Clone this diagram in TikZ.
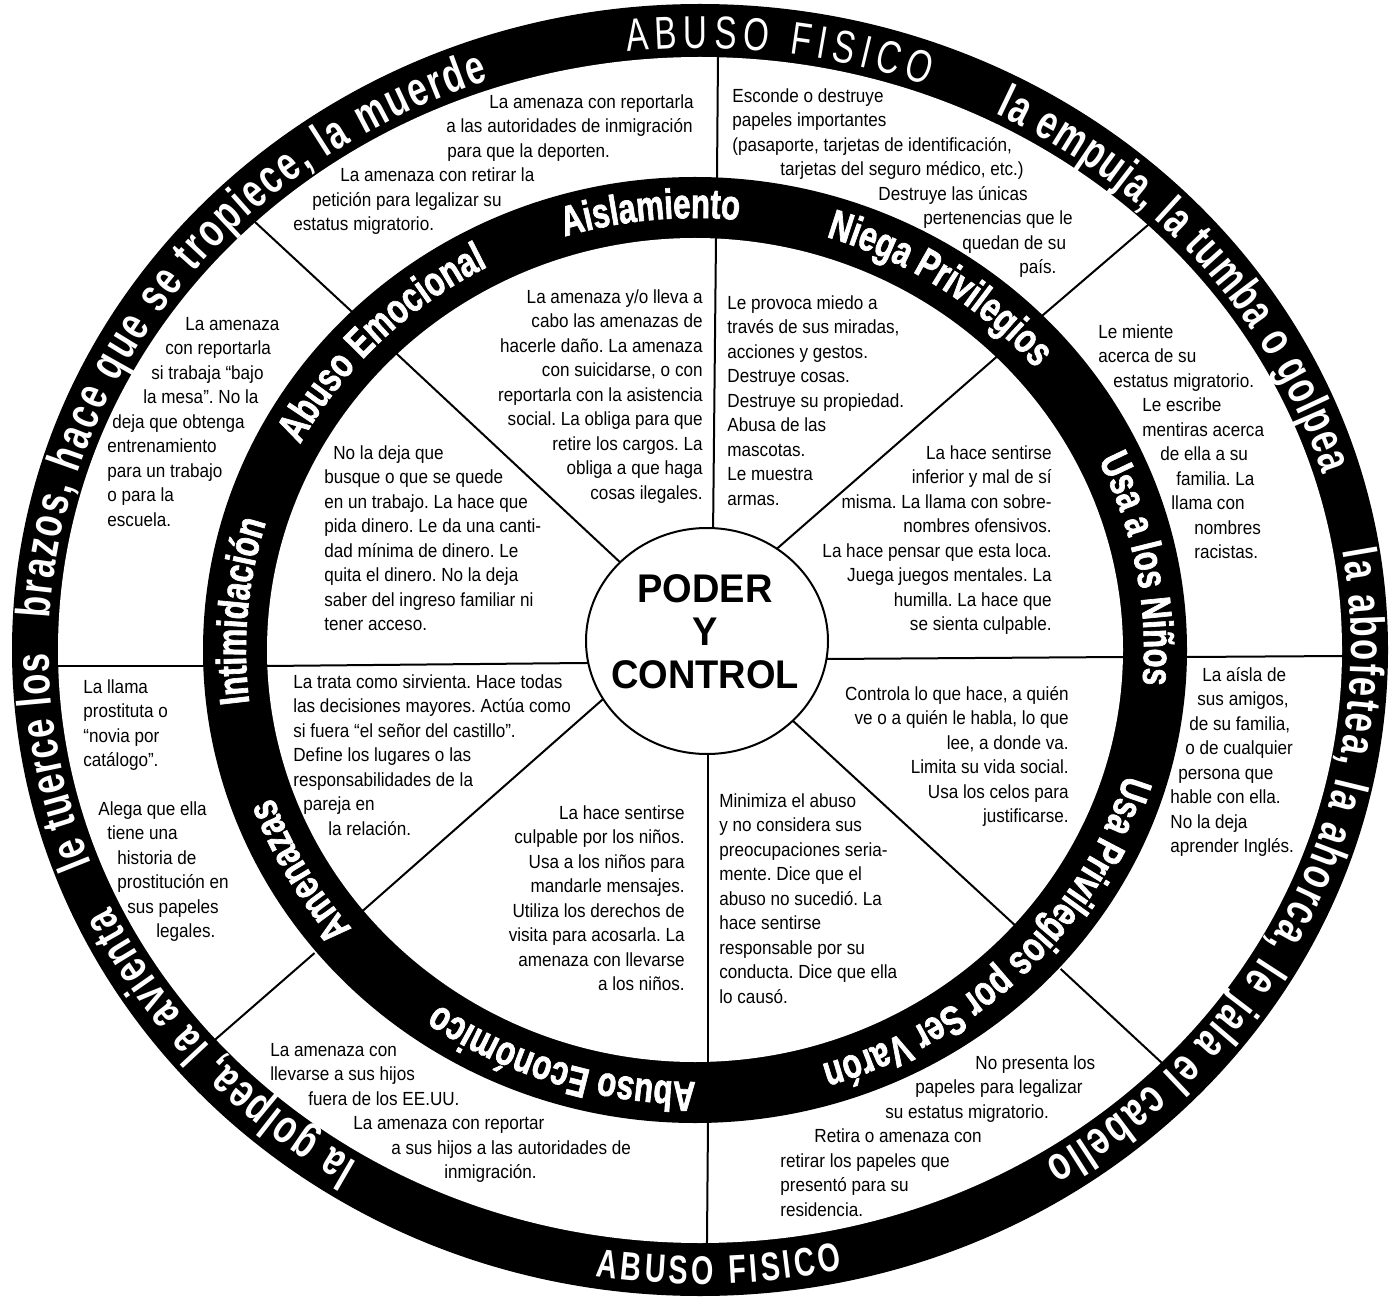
\documentclass[tikz,border=0pt]{standalone}
\usepackage{fontspec}
\setmainfont{Liberation Sans}
\newfontfamily\bodyfont[FakeStretch=0.9]{Liberation Sans}
\newfontfamily\ringfont[FakeStretch=0.74,BoldFeatures={FakeBold=1.6}]{Liberation Sans}
\newfontfamily\rimfont[FakeStretch=0.72]{Liberation Sans}
\newfontfamily\hubfont[FakeStretch=0.95]{Liberation Sans}
\usetikzlibrary{decorations.text,positioning}
\frenchspacing
\newlength\pxu
\setlength\pxu{0.5pt}
\newcommand{\ind}[1]{\hspace*{#1\pxu}}
\newcommand{\ringlab}{\ringfont\bfseries\fontsize{21}{21}\selectfont\color{white}}
\newcommand{\rimlab}{\rimfont\fontsize{23}{23}\selectfont\color{white}}
\newcommand{\rimside}{\rimfont\bfseries\fontsize{24}{24}\selectfont\color{white}}
\newcommand{\rimbold}{\rimfont\bfseries\fontsize{20}{20}\selectfont\color{white}}
\tikzset{
  cell/.style={font=\bodyfont\fontsize{9.5}{12.25}\selectfont,inner sep=0pt,align=left,anchor=north west},
  cellr/.style={cell,align=right,anchor=north east},
  spoke/.style={line width=1pt,shorten <=-3pt,shorten >=-3pt},
  hubspoke/.style={spoke,shorten >=-12pt},
  rim/.style={decorate,decoration={text along path,text align=fit to path,text={|\rimlab|#1}}},
  rims/.style={decorate,decoration={text along path,text align=fit to path,text={|\rimside|#1}}},
  rimb/.style={decorate,decoration={text along path,text align=fit to path,text={|\rimbold|#1}}},
  ring/.style={decorate,decoration={text along path,text align=center,text={|\ringlab|#1}}},
}
\newcommand{\ringtext}[2]{\path[ring={#2}] ([shift={(695,-650)}]#1+40:449 and 432)
  arc[start angle=#1+40,end angle=#1-40,x radius=449,y radius=432];}

\begin{document}
\begin{tikzpicture}[x=0.5pt,y=0.5pt]
  \fill[white] (0,0) rectangle (1398,-1299);
  \useasboundingbox (0,0) rectangle (1398,-1299);
  \fill (700,-650) ellipse [x radius=688,y radius=646];
  \fill[white] (700,-650) ellipse [x radius=642,y radius=593];
  \foreach \xa/\ya/\xb/\yb in {718/55/717/177,1148/225/1043/315,1343/656/1187/657,
      1162/1063/1065/973,707/1240/708/1122,217/1038/310/957,58/666/203/666,255/222/350/310}
    \draw[spoke] (\xa,-\ya) -- (\xb,-\yb);
  \fill (695,-650) ellipse [x radius=492,y radius=473];
  \fill[white] (695,-650) ellipse [x radius=428,y radius=412];
  \foreach \xa/\ya/\xb/\yb in {716/238/713/537,993/360/772/553,1123/657/827/659,
      1018/928/792/720,708/1065/708/753,358/915/602/700,267/666/586/663,398/355/623/565}
    \draw[hubspoke] (\xa,-\ya) -- (\xb,-\yb);
  \filldraw[fill=white,line width=1pt] (707,-641) ellipse [x radius=121,y radius=113];

  \ringtext{95.7}{Aislamiento}
  \ringtext{56.5}{Niega Privilegios}
  \ringtext{10.6}{Usa a los Niños}
  \ringtext{-45}{Usa Privilegios por Ser Varón}
  \ringtext{-107.6}{Abuso Económico}
  \ringtext{209.7}{Amenazas}
  \ringtext{175}{Intimidación}
  \ringtext{134.9}{Abuso Emocional}

  \path[rim={ABUSO FISICO}] ([shift={(700,-650)}]96.4:651 and 602) arc[start angle=96.4,end angle=69.6,x radius=651,y radius=602];
  \path[rims={la empuja, la tumba o golpea}] ([shift={(700,-650)}]63:651 and 602) arc[start angle=63,end angle=17,x radius=651,y radius=602];
  \path[rims={la abofetea, la ahorca, le jala el cabello}] ([shift={(700,-650)}]9.5:651 and 602) arc[start angle=9.5,end angle=-58,x radius=651,y radius=602];
  \path[rims={la golpea, la avienta}] ([shift={(700,-650)}]238.3:651 and 602) arc[start angle=238.3,end angle=205.2,x radius=651,y radius=602];
  \path[rims={le tuerce los}] ([shift={(700,-650)}]200.8:651 and 602) arc[start angle=200.8,end angle=180.3,x radius=651,y radius=602];
  \path[rims={brazos, hace que se tropiece, la muerde}] ([shift={(700,-650)}]177:651 and 602) arc[start angle=177,end angle=109,x radius=651,y radius=602];
  \path[rimb={ABUSO FISICO}] ([shift={(700,-650)}]-98.9:676 and 634) arc[start angle=-98.9,end angle=-77.8,x radius=676,y radius=634];

  \node[font=\hubfont\bfseries\fontsize{20}{21.5}\selectfont,align=center,inner sep=0pt] (hub) at (705,-632) {PODER\\Y\\CONTROL};

  \node[cell] (tl) at (293,-94) {\ind{196}La amenaza con reportarla\\\ind{153}a las autoridades de inmigración\\\ind{154}para que la deporten.\\\ind{47}La amenaza con retirar la\\\ind{19}petición para legalizar su\\estatus migratorio.};
  \node[cell] (tr) at (732,-88) {Esconde o destruye\\papeles importantes\\(pasaporte, tarjetas de identificación,\\\ind{48}tarjetas del seguro médico, etc.)\\\ind{146}Destruye las únicas\\\ind{191}pertenencias que le\\\ind{230}quedan de su\\\ind{287}país.};
  \node[cell] (ul) at (107,-317) {\ind{78}La amenaza\\\ind{58}con reportarla\\\ind{44}si trabaja “bajo\\\ind{36}la mesa”. No la\\\ind{5}deja que obtenga\\entrenamiento\\para un trabajo\\o para la\\escuela.};
  \node[cell] (ll) at (83,-679) {La llama\\prostituta o\\“novia por\\catálogo”.};
  \node[cell] (lla) at (98,-801) {Alega que ella\\\ind{9}tiene una\\\ind{19}historia de\\\ind{19}prostitución en\\\ind{29}sus papeles\\\ind{58}legales.};
  \node[cell] (bl) at (270,-1043) {La amenaza con\\llevarse a sus hijos\\\ind{38}fuera de los EE.UU.\\\ind{83}La amenaza con reportar\\\ind{121}a sus hijos a las autoridades de\\\ind{174}inmigración.};
  \node[cell] (br) at (780,-1055) {\ind{195}No presenta los\\\ind{135}papeles para legalizar\\\ind{105}su estatus migratorio.\\\ind{34}Retira o amenaza con\\retirar los papeles que\\presentó para su\\residencia.};
  \node[cell] (ru) at (1098,-324) {Le miente\\acerca de su\\\ind{15}estatus migratorio.\\\ind{44}Le escribe\\\ind{44}mentiras acerca\\\ind{62}de ella a su\\\ind{78}familia. La\\\ind{73}llama con\\\ind{96}nombres\\\ind{96}racistas.};
  \node[cell] (rl) at (1170,-667) {\ind{32}La aísla de\\\ind{27}sus amigos,\\\ind{19}de su familia,\\\ind{15}o de cualquier\\\ind{8}persona que\\hable con ella.\\No la deja\\aprender Inglés.};

  \node[cellr] (itl) at (703,-289) {La amenaza y/o lleva a\\cabo las amenazas de\\hacerle daño. La amenaza\\con suicidarse, o con\\reportarla con la asistencia\\social. La obliga para que\\retire los cargos. La\\obliga a que haga\\cosas ilegales.};
  \node[cell] (itr) at (727,-295) {Le provoca miedo a\\través de sus miradas,\\acciones y gestos.\\Destruye cosas.\\Destruye su propiedad.\\Abusa de las\\mascotas.\\Le muestra\\armas.};
  \node[cellr] (iru) at (1052,-445) {La hace sentirse\\inferior y mal de sí\\misma. La llama con sobre-\\nombres ofensivos.\\La hace pensar que esta loca.\\Juega juegos mentales. La\\humilla. La hace que\\se sienta culpable.};
  \node[cellr] (irl) at (1069,-686) {Controla lo que hace, a quién\\ve o a quién le habla, lo que\\lee, a donde va.\\Limita su vida social.\\Usa los celos para\\justificarse.};
  \node[cell] (ibr) at (719,-793) {Minimiza el abuso\\y no considera sus\\preocupaciones seria-\\mente. Dice que el\\abuso no sucedió. La\\hace sentirse\\responsable por su\\conducta. Dice que ella\\lo causó.};
  \node[cellr] (ibl) at (685,-805) {La hace sentirse\\culpable por los niños.\\Usa a los niños para\\mandarle mensajes.\\Utiliza los derechos de\\visita para acosarla. La\\amenaza con llevarse\\a los niños.};
  \node[cell] (ill) at (293,-674) {La trata como sirvienta. Hace todas\\las decisiones mayores. Actúa como\\si fuera “el señor del castillo”.\\Define los lugares o las\\responsabilidades de la\\\ind{10}pareja en\\\ind{35}la relación.};
  \node[cell] (iul) at (324,-445) {\ind{9}No la deja que\\busque o que se quede\\en un trabajo. La hace que\\pida dinero. Le da una canti-\\dad mínima de dinero. Le\\quita el dinero. No la deja\\saber del ingreso familiar ni\\tener acceso.};
\end{tikzpicture}
\end{document}
